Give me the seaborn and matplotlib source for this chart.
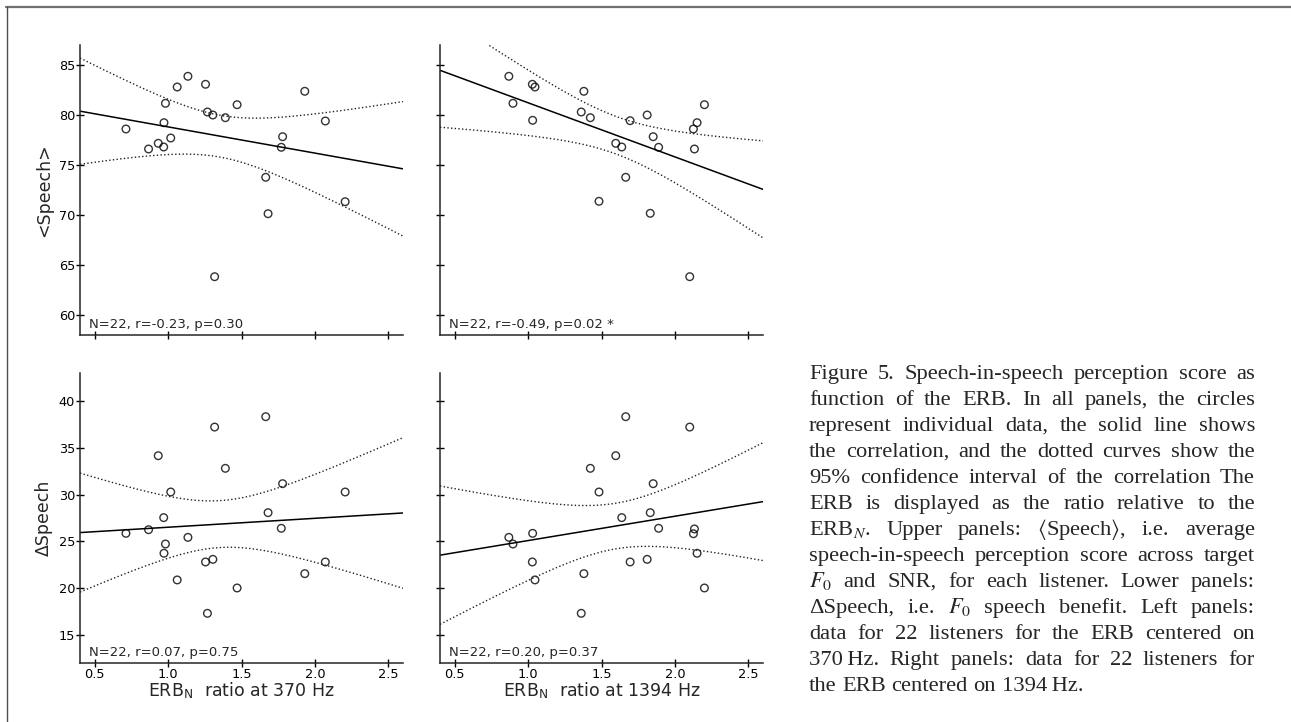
import numpy as np
import pandas as pd
import seaborn as sns
import matplotlib.pyplot as plt
from matplotlib.lines import Line2D

# ERB_N ratio at 370 Hz, one value per listener (left panels)
erb_370 = [0.713, 0.867, 0.933, 0.970, 0.972, 0.982, 1.018, 1.062, 1.135, 1.255, 1.268,
           1.305, 1.317, 1.390, 1.470, 1.665, 1.681, 1.771, 1.780, 1.931, 2.071, 2.206]
speech_mean_370 = [78.6, 76.6, 77.17, 76.8, 79.23, 81.17, 77.7, 82.8, 83.87, 83.07, 80.3,
                   80.0, 63.83, 79.73, 81.03, 73.77, 70.13, 76.77, 77.83, 82.37, 79.4, 71.33]
speech_delta_370 = [25.86, 26.25, 34.16, 27.54, 23.73, 24.72, 30.28, 20.88, 25.43, 22.8, 17.31,
                    23.08, 37.22, 32.81, 20.02, 38.33, 28.07, 26.4, 31.17, 21.55, 22.8, 30.28]

# ERB_N ratio at 1394 Hz (right panels)
erb_1394 = [0.869, 0.897, 1.029, 1.031, 1.047, 1.362, 1.380, 1.424, 1.483, 1.597, 1.638,
            1.665, 1.695, 1.811, 1.832, 1.852, 1.889, 2.101, 2.126, 2.133, 2.151, 2.201]
speech_mean_1394 = [83.87, 81.17, 83.07, 79.47, 82.8, 80.3, 82.37, 79.73, 71.37, 77.17, 76.8,
                    73.77, 79.43, 80.0, 70.17, 77.83, 76.77, 63.83, 78.6, 76.6, 79.23, 81.03]
speech_delta_1394 = [25.43, 24.72, 22.8, 25.86, 20.88, 17.31, 21.55, 32.81, 30.28, 34.16, 27.54,
                     38.33, 22.8, 23.08, 28.07, 31.17, 26.4, 37.22, 25.82, 26.33, 23.73, 20.02]

stats_text = ["N=22, r=-0.23, p=0.30", "N=22, r=-0.49, p=0.02 *",
              "N=22, r=0.07, p=0.75", "N=22, r=0.20, p=0.37"]

caption_lines = [
    "Figure 5. Speech-in-speech perception score as",
    "function of the ERB. In all panels, the circles",
    "represent individual data, the solid line shows",
    "the correlation, and the dotted curves show the",
    "95% confidence interval of the correlation The",
    "ERB is displayed as the ratio relative to the",
    r"ERB$_N$. Upper panels: $\langle$Speech$\rangle$, i.e. average",
    "speech-in-speech perception score across target",
    r"$F_0$ and SNR, for each listener. Lower panels:",
    r"ΔSpeech, i.e. $F_0$ speech benefit. Left panels:",
    "data for 22 listeners for the ERB centered on",
    "370\u2009Hz. Right panels: data for 22 listeners for",
    "the ERB centered on 1394\u2009Hz.",
]

T_CRIT = 2.086  # t(0.975, df=20)
W, H = 1291, 722

sns.set_theme(style="ticks", context="paper")
plt.rcParams['font.family'] = ['DejaVu Sans']
plt.rcParams['mathtext.fontset'] = 'stix'
plt.rcParams['axes.linewidth'] = 1.1


def draw_panel(ax, x, y, ylim, yticks, label):
    ax.set_xlim(0.4, 2.6)
    ax.set_ylim(*ylim)
    df = pd.DataFrame({'x': x, 'y': y})
    sns.regplot(data=df, x='x', y='y', ax=ax, ci=None, truncate=False,
                scatter_kws=dict(s=30, facecolors='none', edgecolors='black', linewidths=1.0),
                line_kws=dict(color='black', lw=1.1))
    # 95% confidence band of the regression, drawn as dotted curves
    xa, ya = np.asarray(x), np.asarray(y)
    n = len(xa)
    slope, icpt = np.polyfit(xa, ya, 1)
    s = np.sqrt(np.sum((ya - (icpt + slope * xa)) ** 2) / (n - 2))
    xs = np.linspace(0.4, 2.6, 300)
    se = s * np.sqrt(1 / n + (xs - xa.mean()) ** 2 / np.sum((xa - xa.mean()) ** 2))
    fit = icpt + slope * xs
    for band in (fit + T_CRIT * se, fit - T_CRIT * se):
        ax.plot(xs, band, ls=':', color='#222222', lw=1.0)
    ax.set_xlim(0.4, 2.6)
    ax.set_ylim(*ylim)
    ax.set_xticks([0.5, 1.0, 1.5, 2.0, 2.5])
    ax.set_yticks(yticks)
    ax.set_xlabel(''); ax.set_ylabel('')
    sns.despine(ax=ax)
    ax.tick_params(direction='inout', length=5.5, width=1.0, labelsize=9.3, pad=0.8, colors='black')
    ax.text(0.028, 0.024, label, transform=ax.transAxes, fontsize=9.5, va='baseline', ha='left')


fig = plt.figure(figsize=(W / 100, H / 100), dpi=100)
col_x = [80 / W, 440 / W]
aw = 323 / W
row_y = [1 - 335 / H, 1 - 663 / H]
ah = 290 / H

ax_tl = fig.add_axes([col_x[0], row_y[0], aw, ah])
ax_tr = fig.add_axes([col_x[1], row_y[0], aw, ah])
ax_bl = fig.add_axes([col_x[0], row_y[1], aw, ah])
ax_br = fig.add_axes([col_x[1], row_y[1], aw, ah])

draw_panel(ax_tl, erb_370, speech_mean_370, (58, 87), [60, 65, 70, 75, 80, 85], stats_text[0])
draw_panel(ax_tr, erb_1394, speech_mean_1394, (58, 87), [60, 65, 70, 75, 80, 85], stats_text[1])
draw_panel(ax_bl, erb_370, speech_delta_370, (12, 43), [15, 20, 25, 30, 35, 40], stats_text[2])
draw_panel(ax_br, erb_1394, speech_delta_1394, (12, 43), [15, 20, 25, 30, 35, 40], stats_text[3])

for ax in (ax_tl, ax_tr):
    ax.tick_params(labelbottom=False)
for ax in (ax_tr, ax_br):
    ax.tick_params(labelleft=False)

ax_tl.set_ylabel('<Speech>', fontsize=12.5)
ax_bl.set_ylabel('ΔSpeech', fontsize=12.5)
for ax in (ax_tl, ax_bl):
    ax.yaxis.set_label_coords(-0.084, 0.5)
ax_bl.set_xlabel(r'ERB$_\mathregular{N}$  ratio at 370 Hz', fontsize=12.5)
ax_br.set_xlabel(r'ERB$_\mathregular{N}$  ratio at 1394 Hz', fontsize=12.5)
for ax in (ax_bl, ax_br):
    ax.xaxis.set_label_coords(0.5, -0.062)

# page frame (top and left edges of the crop)
fig.add_artist(Line2D([6 / W, 1], [1 - 6.5 / H, 1 - 6.5 / H], transform=fig.transFigure,
                      color='#707070', lw=1.6))
fig.add_artist(Line2D([6.5 / W, 6.5 / W], [0, 1 - 6.5 / H], transform=fig.transFigure,
                      color='#505050', lw=1.0))

# justified caption
cap_left, cap_right = 809, 1255
cap_top, cap_pitch = 379, 26.0
cap_size = 16.2
cap_family = ['Liberation Serif', 'DejaVu Serif']
fig.canvas.draw()
renderer = fig.canvas.get_renderer()
for i, line in enumerate(caption_lines):
    words = line.split(' ')
    texts = [fig.text(0, 0, w, fontsize=cap_size, family=cap_family, va='baseline', ha='left')
             for w in words]
    widths = [t.get_window_extent(renderer).width for t in texts]
    if i < len(caption_lines) - 1 and len(words) > 1:
        gap = (cap_right - cap_left - sum(widths)) / (len(words) - 1)
    else:
        gap = cap_size * 100 / 72 * 0.25
    xpos = cap_left
    yb = 1 - (cap_top + i * cap_pitch) / H
    for t, wd in zip(texts, widths):
        t.set_position((xpos / W, yb))
        xpos += wd + gap

fig.savefig('out.png', dpi=100)
